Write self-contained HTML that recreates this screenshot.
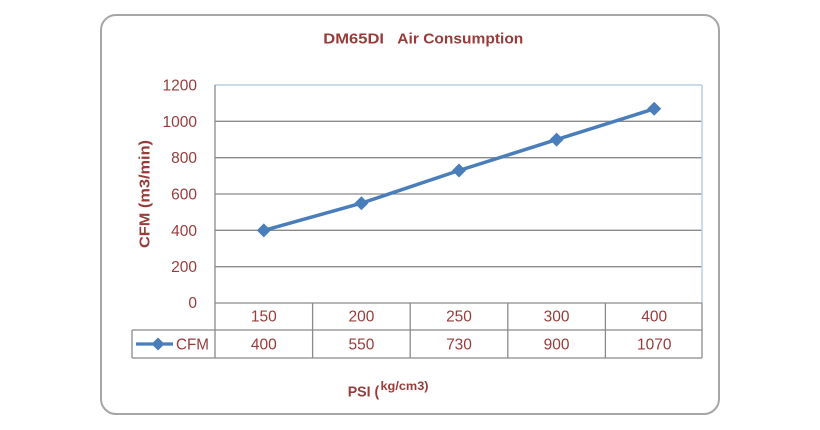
<!DOCTYPE html>
<html><head><meta charset="utf-8"><style>
html,body{margin:0;padding:0;background:#fff;}
svg{display:block;}
text{font-family:"Liberation Sans",sans-serif;fill:#983c3a;}
</style></head><body>
<svg width="820" height="430" viewBox="0 0 820 430" xmlns="http://www.w3.org/2000/svg">
<rect x="101" y="15" width="618" height="399" rx="15" ry="15" fill="#fff" stroke="#a6a6a6" stroke-width="2"/>
<!-- title -->
<text x="323.3" y="43.3" font-size="15" font-weight="bold" textLength="60.7" lengthAdjust="spacingAndGlyphs">DM65DI</text>
<text x="397.3" y="43.3" font-size="15" font-weight="bold" textLength="126" lengthAdjust="spacingAndGlyphs">Air Consumption</text>
<!-- grid -->
<g stroke="#8a8a8a" stroke-width="1.3">
<line x1="215" y1="121.3" x2="702" y2="121.3"/>
<line x1="215" y1="157.7" x2="702" y2="157.7"/>
<line x1="215" y1="194" x2="702" y2="194"/>
<line x1="215" y1="230.3" x2="702" y2="230.3"/>
<line x1="215" y1="266.7" x2="702" y2="266.7"/>
</g>
<g stroke="#bccfe6" stroke-width="1.5">
<line x1="215" y1="85" x2="702" y2="85"/>
<line x1="702" y1="85" x2="702" y2="303"/>
</g>
<!-- table -->
<g stroke="#8a8a8a" stroke-width="1.3" fill="none">
<line x1="215" y1="85" x2="215" y2="358"/>
<line x1="215" y1="303" x2="702" y2="303"/>
<line x1="132" y1="330" x2="702" y2="330"/>
<line x1="132" y1="358" x2="702" y2="358"/>
<line x1="132" y1="330" x2="132" y2="358"/>
<line x1="312.6" y1="303" x2="312.6" y2="358"/>
<line x1="410.2" y1="303" x2="410.2" y2="358"/>
<line x1="507.8" y1="303" x2="507.8" y2="358"/>
<line x1="605.4" y1="303" x2="605.4" y2="358"/>
<line x1="702" y1="303" x2="702" y2="358"/>
</g>
<!-- y ticks -->
<g font-size="15.5" text-anchor="end">
<text x="197" y="90.5">1200</text>
<text x="197" y="126.8">1000</text>
<text x="197" y="163.2">800</text>
<text x="197" y="199.5">600</text>
<text x="197" y="235.8">400</text>
<text x="197" y="272.2">200</text>
<text x="197" y="308">0</text>
</g>
<!-- y label -->
<text transform="translate(149.5,194) rotate(-90)" text-anchor="middle" font-size="15" font-weight="bold" textLength="108" lengthAdjust="spacingAndGlyphs">CFM (m3/min)</text>
<!-- table text -->
<g font-size="15.5" text-anchor="middle">
<text x="263.8" y="321.7">150</text>
<text x="361.4" y="321.7">200</text>
<text x="459" y="321.7">250</text>
<text x="556.6" y="321.7">300</text>
<text x="654.2" y="321.7">400</text>
<text x="263.8" y="349.5">400</text>
<text x="361.4" y="349.5">550</text>
<text x="459" y="349.5">730</text>
<text x="556.6" y="349.5">900</text>
<text x="654.2" y="349.5">1070</text>
</g>
<!-- legend -->
<line x1="136" y1="344" x2="173" y2="344" stroke="#4a7ebb" stroke-width="3.2"/>
<polygon points="158,337.5 164.5,344 158,350.5 151.5,344" fill="#4a7ebb"/>
<text x="176" y="349.5" font-size="15.5" textLength="33" lengthAdjust="spacingAndGlyphs">CFM</text>
<!-- series -->
<polyline points="263.8,230.4 361.4,203.2 459,170.5 556.6,139.6 654.2,108.8" fill="none" stroke="#4a7ebb" stroke-width="3.5" stroke-linejoin="round"/>
<g fill="#4a7ebb">
<polygon points="263.8,223.4 270.8,230.4 263.8,237.4 256.8,230.4"/>
<polygon points="361.4,196.2 368.4,203.2 361.4,210.2 354.4,203.2"/>
<polygon points="459,163.5 466,170.5 459,177.5 452,170.5"/>
<polygon points="556.6,132.6 563.6,139.6 556.6,146.6 549.6,139.6"/>
<polygon points="654.2,101.8 661.2,108.8 654.2,115.8 647.2,108.8"/>
</g>
<!-- x label -->
<text x="347.7" y="396.7" font-size="15" font-weight="bold" textLength="31.5" lengthAdjust="spacingAndGlyphs">PSI (</text>
<text x="380.5" y="390" font-size="11.5" font-weight="bold" textLength="48" lengthAdjust="spacingAndGlyphs">kg/cm3)</text>
</svg>
</body></html>
